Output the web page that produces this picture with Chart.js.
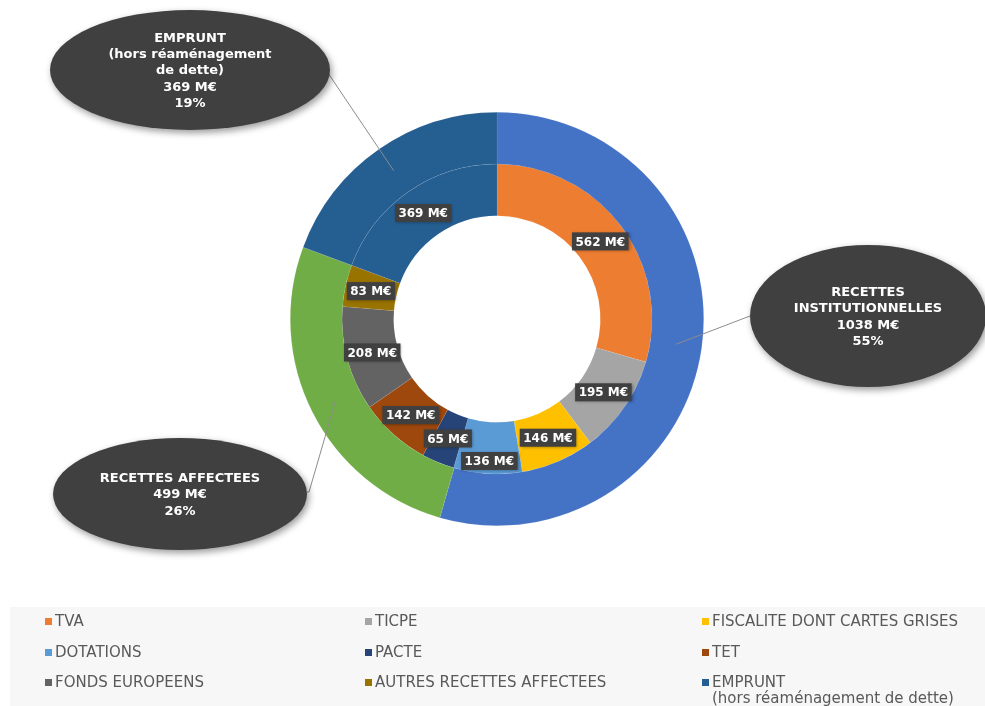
<!DOCTYPE html>
<html lang="fr">
<head>
<meta charset="utf-8">
<title>Recettes</title>
<script src="https://cdn.jsdelivr.net/npm/chart.js@4.4.1/dist/chart.umd.min.js"></script>
<style>
  html, body { margin: 0; padding: 0; background: #fff; }
  #wrap { position: relative; width: 985px; height: 706px; overflow: hidden; }
  #band { position: absolute; left: 10px; top: 607px; right: 0; bottom: 0; background: #f7f7f7; }
  #chart { position: absolute; left: 0; top: 0; }
  #legend {
    position: absolute; left: 45px; top: 609px;
    display: grid; grid-template-columns: 320px 337px 280px; grid-auto-rows: 30.5px;
    font: 15px "DejaVu Sans", Verdana, sans-serif;
    color: #595959;
  }
  #legend .item { display: flex; align-items: flex-start; line-height: 24px; white-space: nowrap; }
  #legend .box { width: 7px; height: 7px; margin: 9px 3px 0 0; flex: none; }
  #legend .sub { display: block; line-height: 16px; margin-top: -4px; }
</style>
</head>
<body>
<div id="wrap">
  <div id="band"></div>
  <canvas id="chart" width="985" height="706"></canvas>
  <div id="legend"></div>
</div>
<script>
  // outer ring: the three groups
  const groupLines = [
    ['RECETTES', 'INSTITUTIONNELLES'],
    ['RECETTES AFFECTEES'],
    ['EMPRUNT', '(hors réaménagement', 'de dette)'],
  ];
  const groupValues = [1038, 499, 369];
  const groupShares = [55, 26, 19];
  const groupColors = ['#4472C4', '#70AD47', '#255E91'];

  // inner ring: detail
  const detailLabels = [
    'TVA', 'TICPE', 'FISCALITE DONT CARTES GRISES',
    'DOTATIONS', 'PACTE', 'TET',
    'FONDS EUROPEENS', 'AUTRES RECETTES AFFECTEES', 'EMPRUNT',
  ];
  const detailValues = [562, 195, 146, 136, 65, 142, 208, 83, 369];
  const detailColors = [
    '#ED7D31', '#A5A5A5', '#FFC000', '#5B9BD5', '#264478',
    '#9E480E', '#636363', '#997300', '#255E91',
  ];
  const unit = ' M€';

  // callout bubbles (layout only)
  const callouts = [
    { cx: 868, cy: 316, rx: 118, ry: 71, anchor: [750, 316] },
    { cx: 180, cy: 494, rx: 127, ry: 56, anchor: [307, 492], bend: [309, 492] },
    { cx: 190, cy: 70, rx: 140, ry: 60, anchor: [326, 70] },
  ];
  const labelNudge = { 3: 13 };

  const legendEl = document.getElementById('legend');
  detailLabels.forEach(function (label, i) {
    const item = document.createElement('div');
    item.className = 'item';
    const box = document.createElement('span');
    box.className = 'box';
    box.style.background = detailColors[i];
    const txt = document.createElement('span');
    txt.textContent = label;
    if (label === 'EMPRUNT') {
      const sub = document.createElement('span');
      sub.className = 'sub';
      sub.textContent = '(hors réaménagement de dette)';
      txt.appendChild(sub);
    }
    item.appendChild(box);
    item.appendChild(txt);
    legendEl.appendChild(item);
  });

  const labelFont = 'bold 12px "DejaVu Sans", Verdana, sans-serif';
  const bubbleFont = 'bold 13px "DejaVu Sans", Verdana, sans-serif';

  const sliceLabels = {
    id: 'sliceLabels',
    afterDatasetsDraw: function (chart) {
      const ctx = chart.ctx;
      const meta = chart.getDatasetMeta(1);
      ctx.save();
      ctx.font = labelFont;
      ctx.textAlign = 'center';
      ctx.textBaseline = 'middle';
      meta.data.forEach(function (arc, i) {
        const p = arc.tooltipPosition();
        const y = p.y + (labelNudge[i] || 0);
        const text = detailValues[i] + unit;
        const w = ctx.measureText(text).width + 7;
        const h = 18;
        ctx.shadowColor = 'rgba(0,0,0,0.35)';
        ctx.shadowBlur = 3;
        ctx.shadowOffsetX = 1;
        ctx.shadowOffsetY = 1;
        ctx.fillStyle = '#404040';
        ctx.fillRect(p.x - w / 2, y - h / 2, w, h);
        ctx.shadowColor = 'transparent';
        ctx.fillStyle = '#ffffff';
        ctx.fillText(text, p.x, y + 1);
      });
      ctx.restore();
    },
  };

  const bubbles = {
    id: 'bubbles',
    afterDatasetsDraw: function (chart) {
      const ctx = chart.ctx;
      const meta = chart.getDatasetMeta(0);
      ctx.save();
      // leader lines
      ctx.strokeStyle = '#8c8c8c';
      ctx.lineWidth = 1;
      meta.data.forEach(function (arc, i) {
        const p = arc.tooltipPosition();
        const c = callouts[i];
        ctx.beginPath();
        ctx.moveTo(p.x, p.y);
        if (c.bend) ctx.lineTo(c.bend[0], c.bend[1]);
        ctx.lineTo(c.anchor[0], c.anchor[1]);
        ctx.stroke();
      });
      // bubbles
      callouts.forEach(function (c, i) {
        ctx.shadowColor = 'rgba(0,0,0,0.4)';
        ctx.shadowBlur = 7;
        ctx.shadowOffsetX = 2;
        ctx.shadowOffsetY = 3;
        ctx.fillStyle = '#404040';
        ctx.beginPath();
        ctx.ellipse(c.cx, c.cy, c.rx, c.ry, 0, 0, Math.PI * 2);
        ctx.fill();
        ctx.shadowColor = 'transparent';
        const lines = groupLines[i].concat([groupValues[i] + unit, groupShares[i] + '%']);
        const lh = 16.4;
        const top = c.cy - (lines.length - 1) * lh / 2;
        ctx.font = bubbleFont;
        ctx.textAlign = 'center';
        ctx.textBaseline = 'middle';
        ctx.fillStyle = '#ffffff';
        lines.forEach(function (line, k) {
          ctx.fillText(line, c.cx, top + k * lh + 1);
        });
      });
      ctx.restore();
    },
  };

  new Chart(document.getElementById('chart'), {
    type: 'doughnut',
    data: {
      labels: detailLabels,
      datasets: [
        {
          data: groupValues,
          backgroundColor: groupColors,
          borderWidth: 0.6,
          borderColor: 'rgba(255,255,255,0.12)',
        },
        {
          data: detailValues,
          backgroundColor: detailColors,
          borderWidth: 0.6,
          borderColor: 'rgba(255,255,255,0.12)',
        },
      ],
    },
    options: {
      responsive: false,
      animation: false,
      cutout: '50%',
      layout: { padding: { left: 290, right: 281, top: 112, bottom: 180 } },
      plugins: {
        legend: { display: false },
        tooltip: { enabled: false },
      },
      events: [],
    },
    plugins: [bubbles, sliceLabels],
  });
</script>
</body>
</html>
